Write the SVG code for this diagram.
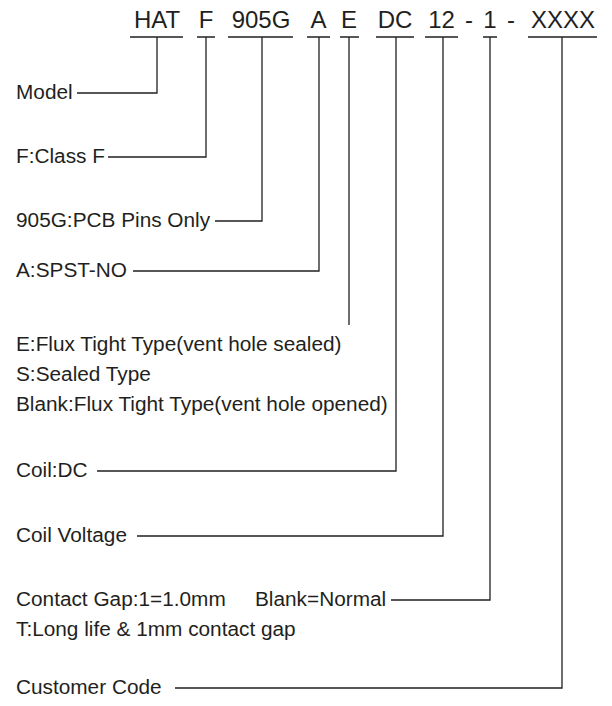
<svg xmlns="http://www.w3.org/2000/svg" width="612" height="706" viewBox="0 0 612 706">
<style>
text{font-family:"Liberation Sans",Arial,sans-serif;fill:#231f20}
.h{font-size:24px;text-anchor:middle}
.t{font-size:20px}
.c{fill:none;stroke:#231f20;stroke-width:1.3}
</style>
<rect width="612" height="706" fill="#fff"/>
<g id="header">
<text class="h" x="157" y="28">HAT</text>
<text class="h" x="206" y="28">F</text>
<text class="h" x="261" y="28">905G</text>
<text class="h" x="318.5" y="28">A</text>
<text class="h" x="349" y="28">E</text>
<text class="h" x="395" y="28">DC</text>
<text class="h" x="441.5" y="28">12</text>
<text class="h" x="469" y="28">-</text>
<text class="h" x="490" y="28">1</text>
<text class="h" x="511" y="28">-</text>
<text class="h" x="563" y="28">XXXX</text>
</g>
<g id="n-model"><text class="t" transform="scale(1.04 1)" x="15.4" y="99">Model</text></g>
<g id="n-class"><text class="t" transform="scale(1.04 1)" x="15.4" y="163">F:Class F</text></g>
<g id="n-pins"><text class="t" transform="scale(1.04 1)" x="15.4" y="227">905G:PCB Pins Only</text></g>
<g id="n-contact"><text class="t" transform="scale(1.04 1)" x="15.4" y="277">A:SPST-NO</text></g>
<g id="n-seal">
<text class="t" transform="scale(1.04 1)" x="15.4" y="351">E:Flux Tight Type(vent hole sealed)</text>
<text class="t" transform="scale(1.04 1)" x="15.4" y="381">S:Sealed Type</text>
<text class="t" transform="scale(1.04 1)" x="15.4" y="411">Blank:Flux Tight Type(vent hole opened)</text>
</g>
<g id="n-coil"><text class="t" transform="scale(1.04 1)" x="15.4" y="477">Coil:DC</text></g>
<g id="n-voltage"><text class="t" transform="scale(1.04 1)" x="15.4" y="542">Coil Voltage</text></g>
<g id="n-gap">
<text class="t" transform="scale(1.04 1)" x="15.4" y="606">Contact Gap:1=1.0mm<tspan x="245.2">Blank=Normal</tspan></text>
<text class="t" transform="scale(1.04 1)" x="15.4" y="636">T:Long life &amp; 1mm contact gap</text>
</g>
<g id="n-customer"><text class="t" transform="scale(1.04 1)" x="15.4" y="694">Customer Code</text></g>
<g id="connectors" class="c">
<path d="M130 37H183M157 37V93H77"/>
<path d="M197 37H215M206 37V157H108"/>
<path d="M228 37H293M262 37V221H215"/>
<path d="M307 37H330M319 37V271H133"/>
<path d="M340 37H359M349 37V325"/>
<path d="M376 37H414M396 37V471H97"/>
<path d="M425 37H458M443 37V536H137"/>
<path d="M483 37H497M490 37V600H391"/>
<path d="M528 37H597M562 37V688H175"/>
</g>
</svg>
